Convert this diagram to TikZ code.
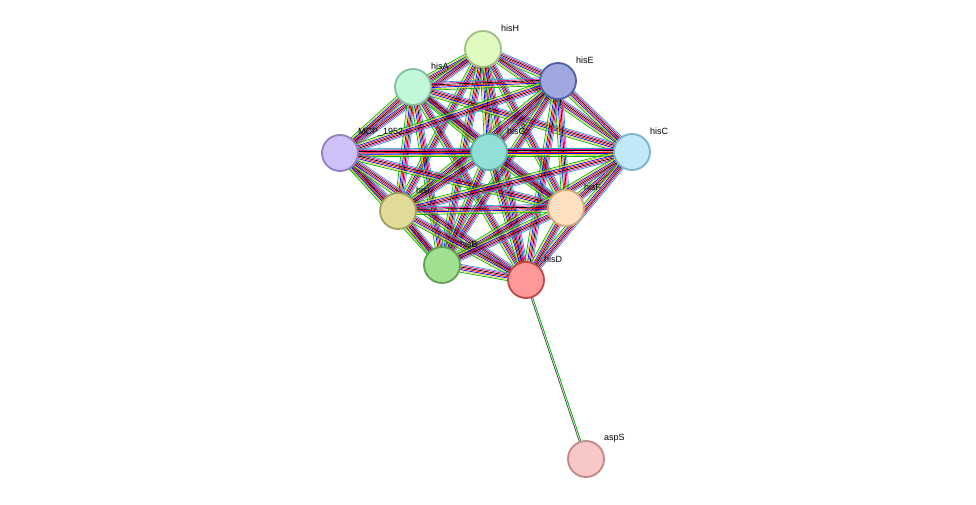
\documentclass[tikz,border=0pt]{standalone}
\usepackage{fontspec}
\setmainfont{Liberation Sans}
\usetikzlibrary{calc}
\begin{document}
\begin{tikzpicture}[x=1pt,y=-1pt,
  prot/.style={circle,draw,line width=1.8pt,minimum size=36pt,inner sep=0pt},
  lab/.style={anchor=west,font=\fontsize{9}{10}\selectfont,inner sep=0pt}]
\useasboundingbox (0,0) rectangle (976,505);
\fill[white] (0,0) rectangle (976,505);
\foreach \n/\x/\y in {hisH/483/49,hisA/413/87,hisE/558/81,MCP/340/153,hisG/489/152,hisC/632/152,hisI/398/211,hisF/566/208,hisB/442/265,hisD/526/280,aspS/586/459}
  \coordinate (\n) at (\x,\y);
\newcommand\bund[2]{%
  \foreach \c [count=\i] in {green!70!black,yellow!85!black,blue,red,black,magenta,cyan!80!black}{%
    \pgfmathsetmacro\o{(\i-4)*1.3}%
    \draw[\c,line width=0.7pt] ($(#1)!\o pt!90:(#2)$) -- ($(#2)!\o pt!-90:(#1)$);}}
\foreach \a/\b in {hisH/hisA,hisH/hisE,hisH/MCP,hisH/hisG,hisH/hisC,hisH/hisI,hisH/hisF,hisH/hisB,hisH/hisD,
 hisA/hisE,hisA/MCP,hisA/hisG,hisA/hisC,hisA/hisI,hisA/hisF,hisA/hisB,hisA/hisD,
 hisE/MCP,hisE/hisG,hisE/hisC,hisE/hisI,hisE/hisF,hisE/hisB,hisE/hisD,
 MCP/hisG,MCP/hisC,MCP/hisI,MCP/hisF,MCP/hisB,MCP/hisD,
 hisG/hisC,hisG/hisI,hisG/hisF,hisG/hisB,hisG/hisD,
 hisC/hisI,hisC/hisF,hisC/hisB,hisC/hisD,
 hisI/hisF,hisI/hisB,hisI/hisD,hisF/hisB,hisF/hisD,hisB/hisD}
  {\bund{\a}{\b}}
\draw[green!70!black,line width=0.8pt] ($(hisD)!0.8pt!90:(aspS)$) -- ($(aspS)!0.8pt!-90:(hisD)$);
\draw[black!70,line width=0.8pt] ($(hisD)!-0.8pt!90:(aspS)$) -- ($(aspS)!-0.8pt!-90:(hisD)$);
\foreach \n/\f/\d/\t in {hisH/E0FBC0/A0C080/hisH,hisA/C0F8D8/80C0A0/hisA,hisE/A0A8E0/5060A0/hisE,
 MCP/D0C0F8/9080C0/MCP\_1952,hisG/90E0D8/60B0A8/hisG,hisC/C0E8F8/80B0D0/hisC,hisI/E0DC98/A0A060/hisI,
 hisF/FFE0C0/D0A880/hisF,hisB/A0E090/60A050/hisB,hisD/FF9898/C04848/hisD,aspS/F8C8C8/C08888/aspS}{
  \definecolor{fc}{HTML}{\f}\definecolor{dc}{HTML}{\d}
  \node[prot,fill=fc,draw=dc] (n\n) at (\n) {};
  \node[lab] (l\n) at ($(\n)+(18,-21)$) {\t};
}
\end{tikzpicture}
\end{document}
